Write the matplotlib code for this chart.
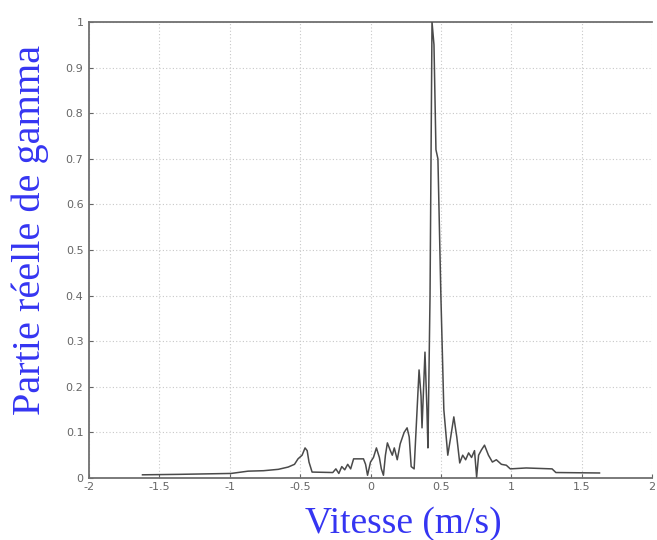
import matplotlib
matplotlib.use("Agg")
import matplotlib.pyplot as plt
import numpy as np

# Real part of gamma versus velocity (m/s)
vitesse = [
    -1.62, -1.36, -0.99, -0.87, -0.76, -0.655, -0.585, -0.54, -0.515, -0.486,
    -0.465, -0.45, -0.437, -0.415, -0.268, -0.246, -0.225, -0.204, -0.183, -0.162,
    -0.141, -0.12, -0.05, -0.035, -0.021, 0.0, 0.021, 0.042, 0.063, 0.077,
    0.092, 0.106, 0.12, 0.141, 0.155, 0.169, 0.19, 0.211, 0.239, 0.26,
    0.275, 0.289, 0.31, 0.331, 0.345, 0.359, 0.366, 0.38, 0.387, 0.401,
    0.408, 0.423, 0.437, 0.451, 0.465, 0.479, 0.5, 0.521, 0.549, 0.57,
    0.592, 0.613, 0.634, 0.655, 0.676, 0.697, 0.718, 0.739, 0.754, 0.768,
    0.789, 0.81, 0.838, 0.866, 0.894, 0.93, 0.965, 0.993, 1.106, 1.29,
    1.317, 1.627,
]
gamma_re = [
    0.007, 0.008, 0.010, 0.015, 0.016, 0.019, 0.024, 0.030, 0.042, 0.050,
    0.066, 0.060, 0.035, 0.013, 0.012, 0.020, 0.010, 0.025, 0.018, 0.030,
    0.020, 0.042, 0.042, 0.030, 0.006, 0.035, 0.045, 0.066, 0.045, 0.020,
    0.006, 0.050, 0.077, 0.060, 0.050, 0.066, 0.040, 0.075, 0.100, 0.110,
    0.090, 0.025, 0.020, 0.150, 0.237, 0.180, 0.110, 0.220, 0.276, 0.150,
    0.066, 0.400, 1.000, 0.950, 0.720, 0.700, 0.400, 0.150, 0.050, 0.090,
    0.134, 0.090, 0.033, 0.050, 0.040, 0.055, 0.045, 0.060, 0.002, 0.050,
    0.062, 0.072, 0.050, 0.035, 0.040, 0.030, 0.028, 0.020, 0.022, 0.020,
    0.012, 0.011,
]
x_ticks = [-2, -1.5, -1, -0.5, 0, 0.5, 1, 1.5, 2]
x_tick_labels = ["-2", "-1.5", "-1", "-0.5", "0", "0.5", "1", "1.5", "2"]
y_ticks = [0, 0.1, 0.2, 0.3, 0.4, 0.5, 0.6, 0.7, 0.8, 0.9, 1]
y_tick_labels = ["0", "0.1", "0.2", "0.3", "0.4", "0.5", "0.6", "0.7", "0.8", "0.9", "1"]

label_blue = "#3535F2"

fig = plt.figure(figsize=(6.57, 5.40), dpi=100)
ax = fig.add_axes([89 / 657, 62 / 540, 563 / 657, 456 / 540])

ax.plot(vitesse, gamma_re, color="#4a4a4a", linewidth=1.1, zorder=3)

ax.set_xlim(-2, 2)
ax.set_ylim(0, 1)
ax.set_xticks(x_ticks)
ax.set_xticklabels(x_tick_labels)
ax.set_yticks(y_ticks)
ax.set_yticklabels(y_tick_labels)
ax.tick_params(axis="x", labelsize=8, colors="#666666", length=3,
               direction="in", pad=3)
ax.tick_params(axis="y", labelsize=8, colors="#666666", length=3,
               direction="in", pad=4)
ax.grid(True, color="#c8c8c8", linestyle=(0, (1, 2)), linewidth=0.8)

for side in ("left", "bottom", "top"):
    ax.spines[side].set_color("#707070")
    ax.spines[side].set_linewidth(1.3)
ax.spines["right"].set_visible(False)

serif = ["Liberation Serif", "DejaVu Serif"]
ax.set_xlabel("Vitesse (m/s)", family=serif, fontsize=27, color=label_blue)
ax.xaxis.set_label_coords(0.558, -0.062, transform=ax.transAxes)
ax.xaxis.label.set_verticalalignment("top")
ax.set_ylabel("Partie réelle de gamma", family=serif, fontsize=29,
              color=label_blue)
ax.yaxis.set_label_coords(-0.104, 0.544, transform=ax.transAxes)
ax.yaxis.label.set_verticalalignment("center")

fig.savefig("out.png", dpi=100)
